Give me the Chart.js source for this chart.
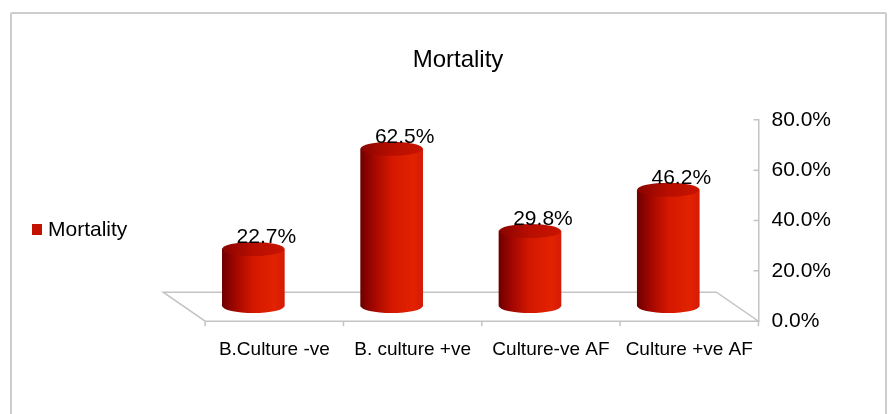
<!DOCTYPE html>
<html>
<head>
<meta charset="utf-8">
<title>Mortality</title>
<script src="https://cdn.jsdelivr.net/npm/chart.js@4.4.1/dist/chart.umd.min.js"></script>
<style>
  html, body { margin: 0; padding: 0; background: #fff; overflow: hidden; }
  #wrap { position: relative; width: 891px; height: 414px; }
  #frame { position: absolute; left: 10px; top: 12px; width: 873px; height: 420px; border: 2px solid #cdcdcd; border-radius: 2px; }
  #myChart { position: absolute; left: 0; top: 0; }
</style>
</head>
<body>
<div id="wrap">
  <div id="frame"></div>
  <canvas id="myChart" width="891" height="414"></canvas>
</div>
<script>
var categories = ["B.Culture -ve", "B. culture +ve", "Culture-ve AF", "Culture +ve AF"];
var mortality = [0.227, 0.625, 0.298, 0.462];
var yTicks = [0, 0.2, 0.4, 0.6, 0.8];

// fake 3D depth of the floor
var DX = 42, DY = 29, RY = 7;
var FONT = '"Liberation Sans", Arial, sans-serif';

function pct(v) { return (v * 100).toFixed(1) + '%'; }

function bodyGradient(ctx, cx, hw) {
  var g = ctx.createLinearGradient(cx - hw, 0, cx + hw, 0);
  g.addColorStop(0, '#6e0000');
  g.addColorStop(0.2, '#a00600');
  g.addColorStop(0.5, '#d41800');
  g.addColorStop(0.85, '#e22200');
  g.addColorStop(1, '#d41a08');
  return g;
}

function topGradient(ctx, cx, hw) {
  var g = ctx.createLinearGradient(cx - hw, 0, cx + hw, 0);
  g.addColorStop(0, '#8a0400');
  g.addColorStop(0.5, '#b80e00');
  g.addColorStop(1, '#c81400');
  return g;
}

var cylinder = {
  id: 'cylinder',
  beforeDatasetsDraw: function(chart) {
    var ctx = chart.ctx, xs = chart.scales.x, ys = chart.scales.y;
    var fy = ys.getPixelForValue(0);
    var fl = xs.getPixelForValue(-0.5) + DX / 2;
    var fr = xs.getPixelForValue(categories.length - 0.5) + DX / 2;
    ctx.save();
    ctx.strokeStyle = '#c4c4c4';
    ctx.lineWidth = 1.5;
    ctx.beginPath();
    ctx.moveTo(fl, fy);
    ctx.lineTo(fr, fy);
    ctx.lineTo(fr - DX, fy - DY);
    ctx.lineTo(fl - DX, fy - DY);
    ctx.closePath();
    for (var i = 0; i <= categories.length; i++) {
      var tx = xs.getPixelForValue(i - 0.5) + DX / 2;
      ctx.moveTo(tx, fy);
      ctx.lineTo(tx, fy + 5);
    }
    ys.ticks.forEach(function(t) {
      var py = ys.getPixelForValue(t.value);
      ctx.moveTo(ys.left - 5, py);
      ctx.lineTo(ys.left, py);
    });
    ctx.stroke();

    // legend, drawn left of the plot
    var ds = chart.data.datasets[0];
    ctx.fillStyle = '#c41200';
    ctx.fillRect(32, 224, 10, 11);
    ctx.fillStyle = '#000';
    ctx.font = '21px ' + FONT;
    ctx.textAlign = 'left';
    ctx.textBaseline = 'middle';
    ctx.fillText(ds.label, 48, 230);
    ctx.restore();
  },
  afterDatasetsDraw: function(chart) {
    var ctx = chart.ctx;
    var meta = chart.getDatasetMeta(0);
    ctx.save();
    meta.data.forEach(function(bar, i) {
      var cx = bar.x, hw = bar.width / 2;
      ctx.fillStyle = bodyGradient(ctx, cx, hw);
      ctx.beginPath();
      ctx.ellipse(cx, bar.base, hw, RY, 0, 0, Math.PI);
      ctx.fill();
      ctx.fillStyle = topGradient(ctx, cx, hw);
      ctx.beginPath();
      ctx.ellipse(cx, bar.y, hw, RY, 0, 0, Math.PI * 2);
      ctx.fill();
      ctx.fillStyle = '#000';
      ctx.font = '21px ' + FONT;
      ctx.textAlign = 'center';
      ctx.textBaseline = 'middle';
      ctx.fillText(pct(mortality[i]), cx + 13, bar.y - 12);
    });
    ctx.restore();
  }
};

Chart.defaults.font.family = FONT;
Chart.defaults.color = '#000';

var ctx = document.getElementById("myChart");
var myChart = new Chart(ctx, {
  type: 'bar',
  data: {
    datasets: [{
      label: 'Mortality',
      data: mortality.map(function(v, i) { return { x: i, y: v }; }),
      yAxisID: 'yb',
      barThickness: 62,
      borderWidth: 0,
      backgroundColor: function(c) {
        if (c.type !== 'data' || !c.chart.chartArea) return '#c41200';
        var cx = c.chart.scales.x.getPixelForValue(c.dataIndex);
        return bodyGradient(c.chart.ctx, cx, 31);
      }
    }]
  },
  options: {
    responsive: false,
    animation: false,
    layout: { padding: { left: 72, right: 47, top: 0, bottom: 36 } },
    plugins: {
      title: {
        display: true,
        text: 'Mortality',
        font: { size: 24, weight: 'normal' },
        padding: { top: 46, bottom: 45 }
      },
      legend: { display: false },
      tooltip: { enabled: false }
    },
    scales: {
      x: {
        type: 'linear',
        offset: false,
        min: -0.805,
        max: 3.652,
        grid: { display: false, drawTicks: false, offset: false },
        border: { display: false },
        afterBuildTicks: function(scale) {
          scale.ticks = categories.map(function(c, i) { return { value: i }; });
        },
        ticks: {
          autoSkip: false,
          maxRotation: 0,
          padding: 17,
          labelOffset: 21,
          font: { size: 19 },
          callback: function(v) { return categories[v] || ''; }
        }
      },
      y: {
        position: 'right',
        min: 0,
        max: 0.8,
        grid: { display: false, drawTicks: false },
        border: { display: true, color: '#c4c4c4', width: 1.5 },
        afterBuildTicks: function(scale) {
          scale.ticks = yTicks.map(function(v) { return { value: v }; });
        },
        ticks: {
          padding: 13,
          font: { size: 21 },
          callback: function(v) { return pct(v); }
        }
      },
      yb: {
        position: 'left',
        min: -0.06,
        max: 0.74,
        grid: { display: false, drawTicks: false },
        border: { display: false },
        ticks: { display: false },
        afterFit: function(scale) { scale.width = 70; }
      }
    }
  },
  plugins: [cylinder]
});
</script>
</body>
</html>
